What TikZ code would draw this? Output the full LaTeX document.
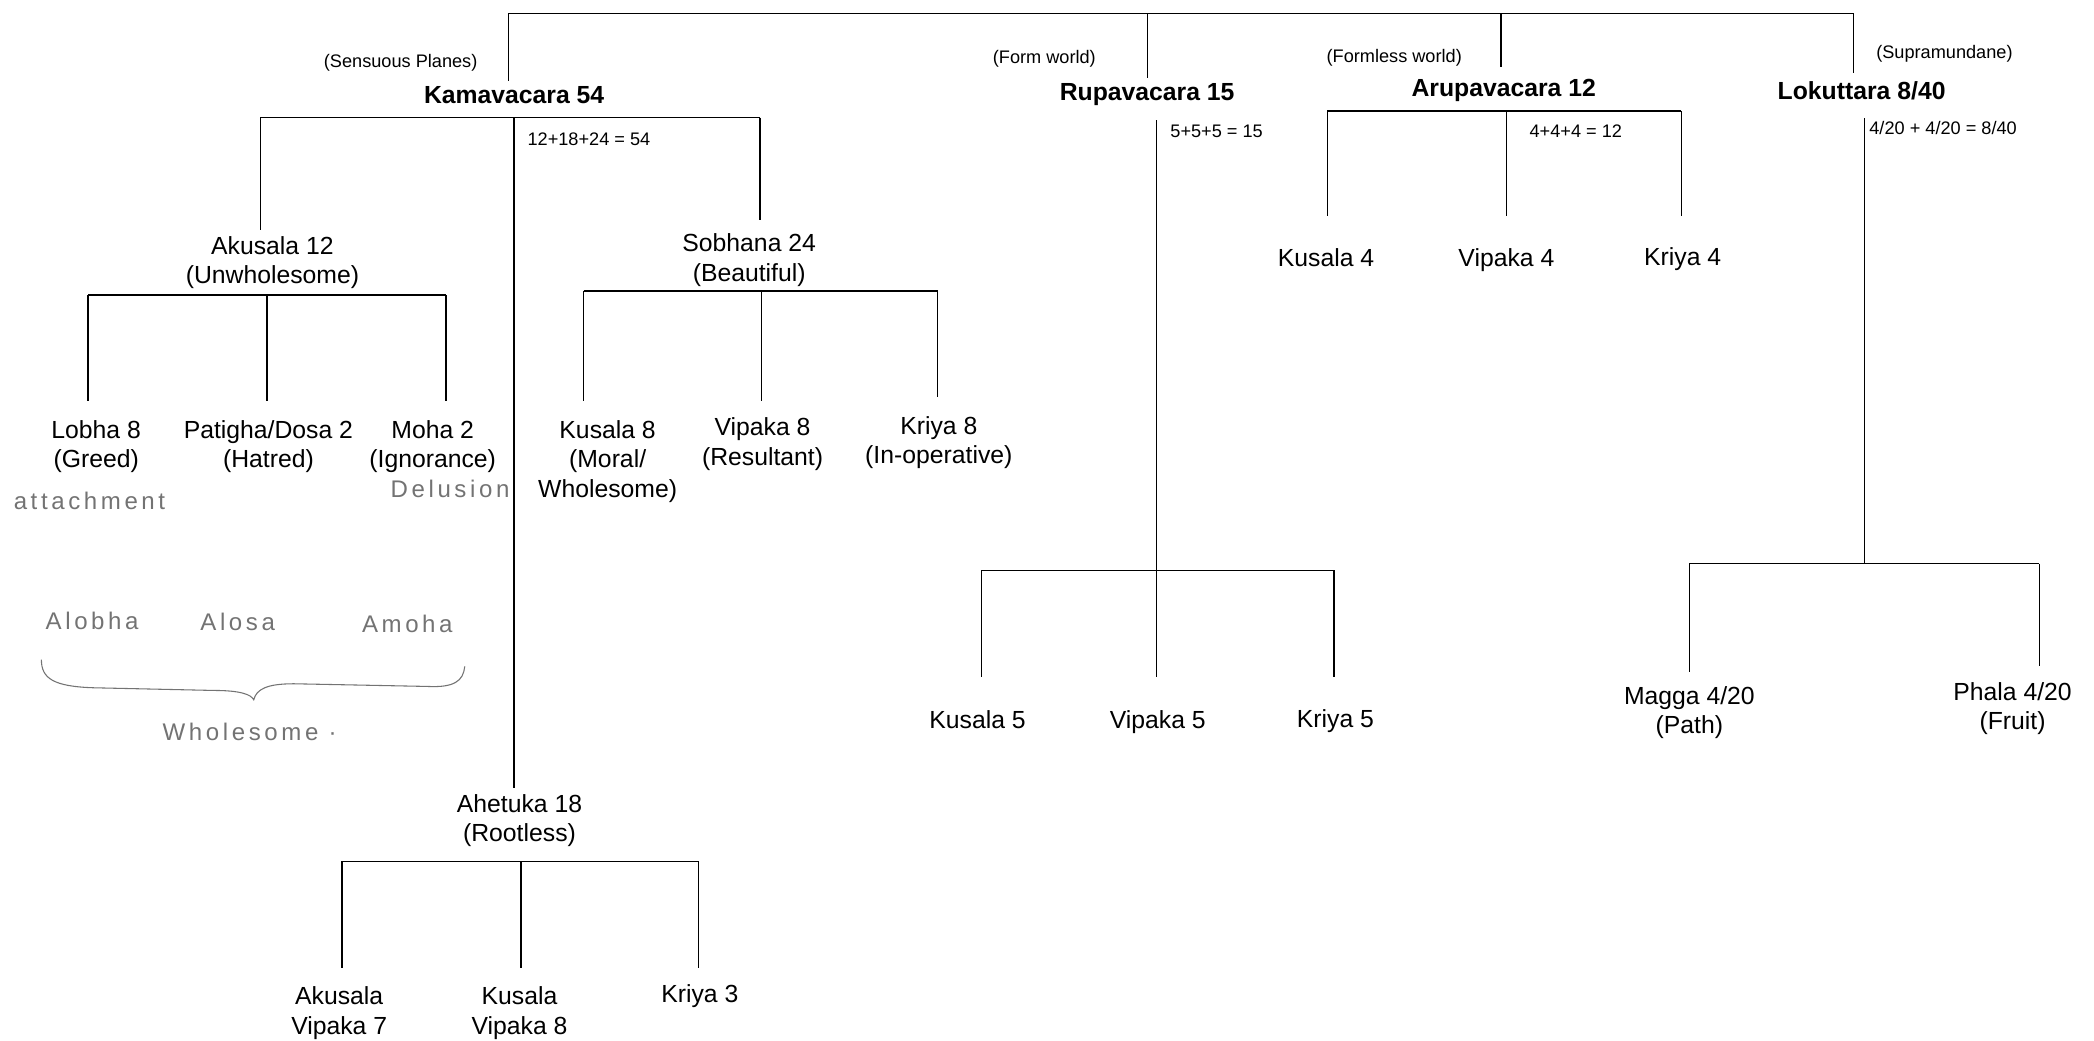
\documentclass[tikz,border=0pt]{standalone}
\usepackage{fontspec}
\setmainfont{Liberation Sans}
\newfontfamily\handfont[LetterSpace=15]{Liberation Sans}

\tikzset{every picture/.style={line width=0.75pt}}
\tikzset{
  cell/.style={inner sep=0.75pt, anchor=north, align=center, font=\fontsize{13.9}{16.5}\selectfont},
  head/.style={inner sep=0.75pt, font=\bfseries\fontsize{13.9}{16.5}\selectfont},
  note/.style={inner sep=0.75pt, font=\fontsize{10.2}{12}\selectfont},
  hand/.style={inner sep=0.75pt, text=black!55, font=\handfont\fontsize{13.5}{16}\selectfont},
  handline/.style={draw=black!55, line width=0.6pt},
  kidgap/.style={shorten >=#1}
}

\begin{document}
\begin{tikzpicture}[x=0.75pt,y=0.75pt,yscale=-1,xscale=1]
\useasboundingbox (0,0) rectangle (1568,779);

% Text Node
\node (kama) at (385,71) [head] {Kamavacara 54};
\node (rupa) at (859,71) [head] {Rupavacara 15};
\node (arupa) at (1126,68) [head] {Arupavacara 12};
\node (loku) at (1394,68) [head] {Lokuttara 8/40};
% Text Node
\node (sensu) at (300,47) [note] {(Sensuous Planes)};
\node (formw) at (782,44) [note] {(Form world)};
\node (formless) at (1044,43) [note] {(Formless world)};
\node (supra) at (1456,40) [note] {(Supramundane)};
% Text Node
\node (ksum) at (441,104) [note] {12+18+24 = 54};
\node (rsum) at (911,98) [note] {5+5+5 = 15};
\node (asum) at (1180,98) [note] {4+4+4 = 12};
\node (lsum) at (1455,96) [note] {4/20 + 4/20 = 8/40};

% Text Node
\node (akus) at (204,175.5) [cell] {Akusala 12\\(Unwholesome)};
\node (sobh) at (561,173.5) [cell] {Sobhana 24\\(Beautiful)};
\node (ahet) at (389,593.5) [cell] {Ahetuka 18\\(Rootless)};
% Text Node
\node (lobha) at (72,313.5) [cell] {Lobha 8\\(Greed)};
\node (patig) at (201,313.5) [cell] {Patigha/Dosa 2\\(Hatred)};
\node (moha) at (324,313.5) [cell] {Moha 2\\(Ignorance)};
\node (kus8) at (455,313.5) [cell] {Kusala 8\\(Moral/\\Wholesome)};
\node (vip8) at (571,311.5) [cell] {Vipaka 8\\(Resultant)};
\node (kri8) at (703,310.5) [cell] {Kriya 8\\(In-operative)};
% Text Node
\node (akvip) at (254,737.5) [cell] {Akusala\\Vipaka 7};
\node (kuvip) at (389,737.5) [cell] {Kusala\\Vipaka 8};
\node (kri3) at (524,735.5) [cell] {Kriya 3};
% Text Node
\node (kus5) at (732,530.5) [cell] {Kusala 5};
\node (vip5) at (867,530.5) [cell] {Vipaka 5};
\node (kri5) at (1000,529.5) [cell] {Kriya 5};
% Text Node
\node (kus4) at (993,184.5) [cell] {Kusala 4};
\node (vip4) at (1128,184.5) [cell] {Vipaka 4};
\node (kri4) at (1260,183.5) [cell] {Kriya 4};
% Text Node
\node (magga) at (1265,512.5) [cell] {Magga 4/20\\(Path)};
\node (phala) at (1507,509.5) [cell] {Phala 4/20\\(Fruit)};

%Straight Lines
\coordinate (topL) at (381,10);
\coordinate (topB) at (859,10);
\coordinate (topC) at (1124,10);
\coordinate (topR) at (1388,10);
\draw (topL) -- (topR);
\draw [kidgap=2pt] (topL) -- (topL |- kama.north);
\draw [kidgap=2pt] (topB) -- (topB |- rupa.north);
\draw [kidgap=6pt] (topC) -- (topC |- arupa.north);
\draw [kidgap=3.7pt] (topR) -- (topR |- loku.north);

%Straight Lines
\coordinate (kL) at (195,88);
\coordinate (kM) at (385,88);
\coordinate (kR) at (569,88);
\draw (kL) -- (kR);
\draw [kidgap=2.6pt] (kL) -- (kL |- akus.north);
\draw [kidgap=6.4pt] (kR) -- (kR |- sobh.north);
\draw [kidgap=2.6pt] (kM) -- (kM |- ahet.north);

%Straight Lines
\coordinate (aL) at (66,221);
\coordinate (aM) at (200,221);
\coordinate (aR) at (334,221);
\draw (aL) -- (aR);
\draw [kidgap=10pt] (aL) -- (aL |- lobha.north);
\draw [kidgap=10pt] (aM) -- (aM |- patig.north);
\draw [kidgap=10pt] (aR) -- (aR |- moha.north);

%Straight Lines
\coordinate (sL) at (437,218);
\coordinate (sM) at (570,218);
\coordinate (sR) at (702,218);
\draw (sL) -- (sR);
\draw [kidgap=10pt] (sL) -- (sL |- kus8.north);
\draw [kidgap=8.6pt] (sM) -- (sM |- vip8.north);
\draw [kidgap=10pt] (sR) -- (sR |- kri8.north);

%Straight Lines
\coordinate (hL) at (256,645);
\coordinate (hM) at (390,645);
\coordinate (hR) at (523,645);
\draw (hL) -- (hR);
\draw [kidgap=9.4pt] (hL) -- (hL |- akvip.north);
\draw [kidgap=9.4pt] (hM) -- (hM |- kuvip.north);
\draw [kidgap=7.9pt] (hR) -- (hR |- kri3.north);

%Straight Lines
\coordinate (rL) at (735,427);
\coordinate (rM) at (866,427);
\coordinate (rR) at (999,427);
\draw [shorten <=7pt] (rM |- rupa.south) -- (rM);
\draw (rL) -- (rR);
\draw [kidgap=17.6pt] (rL) -- (rL |- kus5.north);
\draw [kidgap=17.6pt] (rM) -- (rM |- vip5.north);
\draw [kidgap=17pt] (rR) -- (rR |- kri5.north);

%Straight Lines
\coordinate (uL) at (994,83);
\coordinate (uM) at (1128,83);
\coordinate (uR) at (1259,83);
\draw (uL) -- (uR);
\draw [kidgap=16.9pt] (uL) -- (uL |- kus4.north);
\draw [kidgap=16.9pt] (uM) -- (uM |- vip4.north);
\draw [kidgap=16.2pt] (uR) -- (uR |- kri4.north);

%Straight Lines
\coordinate (lL) at (1265,422);
\coordinate (lM) at (1396,422);
\coordinate (lR) at (1527,422);
\draw [shorten <=9pt] (lM |- loku.south) -- (lM);
\draw (lL) -- (lR);
\draw [kidgap=7pt] (lL) -- (lL |- magga.north);
\draw [kidgap=7.9pt] (lR) -- (lR |- phala.north);

% Text Node
\node (attach) at (67,375) [hand] {attachment};
\node (delus) at (337,366) [hand] {Delusion};
\node (alobha) at (69,465) [hand] {Alobha};
\node (alosa) at (178,466) [hand] {Alosa};
\node (amoha) at (305,467) [hand] {Amoha};
\node (whole) at (187,548) [hand] {Wholesome ·};
%Curve Lines
\draw [handline] (31,494) .. controls (31,508) and (40,514) .. (70,515) -- (160,517) .. controls (180,517) and (188,520) .. (190,524) .. controls (192,516) and (200,512) .. (220,512) -- (320,514) .. controls (340,515) and (347,510) .. (348,499);

\end{tikzpicture}
\end{document}
